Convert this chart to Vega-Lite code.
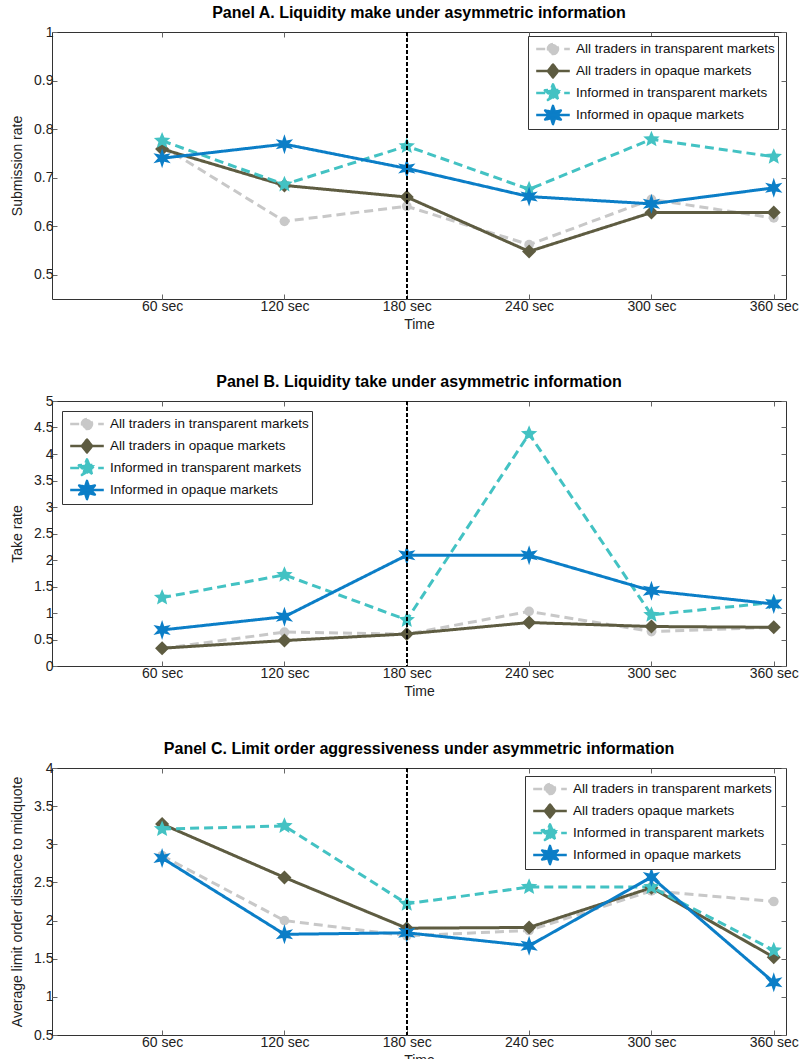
{
  "$schema": "https://vega.github.io/schema/vega-lite/v6.json",
  "padding": {"left": 10, "top": 4, "right": 0, "bottom": 0},
  "background": "white",
  "config": {
    "font": "Liberation Sans",
    "view": {"stroke": "#333", "strokeWidth": 1},
    "title": {"fontSize": 16, "font": "Liberation Sans", "fontWeight": "bold", "offset": 0, "anchor": "middle", "frame": "group", "color": "#000"},
    "axis": {"tickSize": -5, "tickColor": "#666", "tickWidth": 1, "domain": false, "grid": false, "labelFontSize": 14, "titleFontSize": 14, "labelColor": "#222", "titleColor": "#222", "titleFontWeight": "normal", "labelFont": "Liberation Sans", "titleFont": "Liberation Sans"},
    "axisX": {"labelPadding": 5, "titlePadding": 4},
    "axisY": {"labelPadding": 4, "titlePadding": 9},
    "legend": {"labelFont": "Liberation Sans", "title": null, "orient": "none", "padding": 3, "symbolSize": 300, "symbolStrokeWidth": 2.5, "symbolOffset": 12, "labelOffset": 13, "labelFontSize": 13.5, "labelColor": "#111", "strokeColor": "#333", "fillColor": "white", "rowPadding": 0, "labelLimit": 300}
  },
  "data": {"values": [
    {"p": "A", "s": "All traders in transparent markets", "t": 60, "v": 0.765},
    {"p": "A", "s": "All traders in transparent markets", "t": 120, "v": 0.610},
    {"p": "A", "s": "All traders in transparent markets", "t": 180, "v": 0.641},
    {"p": "A", "s": "All traders in transparent markets", "t": 240, "v": 0.562},
    {"p": "A", "s": "All traders in transparent markets", "t": 300, "v": 0.655},
    {"p": "A", "s": "All traders in transparent markets", "t": 360, "v": 0.617},
    {"p": "A", "s": "All traders in opaque markets", "t": 60, "v": 0.759},
    {"p": "A", "s": "All traders in opaque markets", "t": 120, "v": 0.684},
    {"p": "A", "s": "All traders in opaque markets", "t": 180, "v": 0.660},
    {"p": "A", "s": "All traders in opaque markets", "t": 240, "v": 0.548},
    {"p": "A", "s": "All traders in opaque markets", "t": 300, "v": 0.628},
    {"p": "A", "s": "All traders in opaque markets", "t": 360, "v": 0.628},
    {"p": "A", "s": "Informed in transparent markets", "t": 60, "v": 0.776},
    {"p": "A", "s": "Informed in transparent markets", "t": 120, "v": 0.686},
    {"p": "A", "s": "Informed in transparent markets", "t": 180, "v": 0.765},
    {"p": "A", "s": "Informed in transparent markets", "t": 240, "v": 0.676},
    {"p": "A", "s": "Informed in transparent markets", "t": 300, "v": 0.779},
    {"p": "A", "s": "Informed in transparent markets", "t": 360, "v": 0.743},
    {"p": "A", "s": "Informed in opaque markets", "t": 60, "v": 0.740},
    {"p": "A", "s": "Informed in opaque markets", "t": 120, "v": 0.769},
    {"p": "A", "s": "Informed in opaque markets", "t": 180, "v": 0.719},
    {"p": "A", "s": "Informed in opaque markets", "t": 240, "v": 0.661},
    {"p": "A", "s": "Informed in opaque markets", "t": 300, "v": 0.646},
    {"p": "A", "s": "Informed in opaque markets", "t": 360, "v": 0.679},
    {"p": "B", "s": "All traders in transparent markets", "t": 60, "v": 0.33},
    {"p": "B", "s": "All traders in transparent markets", "t": 120, "v": 0.64},
    {"p": "B", "s": "All traders in transparent markets", "t": 180, "v": 0.60},
    {"p": "B", "s": "All traders in transparent markets", "t": 240, "v": 1.03},
    {"p": "B", "s": "All traders in transparent markets", "t": 300, "v": 0.65},
    {"p": "B", "s": "All traders in transparent markets", "t": 360, "v": 0.73},
    {"p": "B", "s": "All traders in opaque markets", "t": 60, "v": 0.335},
    {"p": "B", "s": "All traders in opaque markets", "t": 120, "v": 0.48},
    {"p": "B", "s": "All traders in opaque markets", "t": 180, "v": 0.605},
    {"p": "B", "s": "All traders in opaque markets", "t": 240, "v": 0.82},
    {"p": "B", "s": "All traders in opaque markets", "t": 300, "v": 0.745},
    {"p": "B", "s": "All traders in opaque markets", "t": 360, "v": 0.73},
    {"p": "B", "s": "Informed in transparent markets", "t": 60, "v": 1.29},
    {"p": "B", "s": "Informed in transparent markets", "t": 120, "v": 1.72},
    {"p": "B", "s": "Informed in transparent markets", "t": 180, "v": 0.87},
    {"p": "B", "s": "Informed in transparent markets", "t": 240, "v": 4.38},
    {"p": "B", "s": "Informed in transparent markets", "t": 300, "v": 0.965},
    {"p": "B", "s": "Informed in transparent markets", "t": 360, "v": 1.20},
    {"p": "B", "s": "Informed in opaque markets", "t": 60, "v": 0.68},
    {"p": "B", "s": "Informed in opaque markets", "t": 120, "v": 0.93},
    {"p": "B", "s": "Informed in opaque markets", "t": 180, "v": 2.09},
    {"p": "B", "s": "Informed in opaque markets", "t": 240, "v": 2.09},
    {"p": "B", "s": "Informed in opaque markets", "t": 300, "v": 1.42},
    {"p": "B", "s": "Informed in opaque markets", "t": 360, "v": 1.17},
    {"p": "C", "s": "All traders in transparent markets", "t": 60, "v": 2.85},
    {"p": "C", "s": "All traders in transparent markets", "t": 120, "v": 2.00},
    {"p": "C", "s": "All traders in transparent markets", "t": 180, "v": 1.80},
    {"p": "C", "s": "All traders in transparent markets", "t": 240, "v": 1.87},
    {"p": "C", "s": "All traders in transparent markets", "t": 300, "v": 2.39},
    {"p": "C", "s": "All traders in transparent markets", "t": 360, "v": 2.25},
    {"p": "C", "s": "All traders opaque markets", "t": 60, "v": 3.265},
    {"p": "C", "s": "All traders opaque markets", "t": 120, "v": 2.565},
    {"p": "C", "s": "All traders opaque markets", "t": 180, "v": 1.90},
    {"p": "C", "s": "All traders opaque markets", "t": 240, "v": 1.91},
    {"p": "C", "s": "All traders opaque markets", "t": 300, "v": 2.43},
    {"p": "C", "s": "All traders opaque markets", "t": 360, "v": 1.52},
    {"p": "C", "s": "Informed in transparent markets", "t": 60, "v": 3.20},
    {"p": "C", "s": "Informed in transparent markets", "t": 120, "v": 3.24},
    {"p": "C", "s": "Informed in transparent markets", "t": 180, "v": 2.22},
    {"p": "C", "s": "Informed in transparent markets", "t": 240, "v": 2.44},
    {"p": "C", "s": "Informed in transparent markets", "t": 300, "v": 2.44},
    {"p": "C", "s": "Informed in transparent markets", "t": 360, "v": 1.61},
    {"p": "C", "s": "Informed in opaque markets", "t": 60, "v": 2.82},
    {"p": "C", "s": "Informed in opaque markets", "t": 120, "v": 1.82},
    {"p": "C", "s": "Informed in opaque markets", "t": 180, "v": 1.84},
    {"p": "C", "s": "Informed in opaque markets", "t": 240, "v": 1.67},
    {"p": "C", "s": "Informed in opaque markets", "t": 300, "v": 2.57},
    {"p": "C", "s": "Informed in opaque markets", "t": 360, "v": 1.19}
  ]},
  "spacing": 41,
  "resolve": {
    "scale": {"x": "independent", "y": "independent", "color": "independent", "strokeDash": "independent", "fill": "independent", "shape": "independent", "size": "independent"},
    "legend": {"color": "independent", "strokeDash": "independent"}
  },
  "vconcat": [
    {
      "title": {"text": "Panel A. Liquidity make under asymmetric information"},
      "width": 734, "height": 267,
      "transform": [{"filter": "datum.p === 'A'"}],
      "resolve": {"axis": {"x": "independent", "y": "independent"}},
      "layer": [
        {
          "mark": {"type": "line", "strokeWidth": 3},
          "encoding": {
            "x": {"field": "t", "type": "quantitative", "scale": {"domain": [6, 366], "nice": false, "zero": false}, "axis": {"orient": "bottom", "values": [60, 120, 180, 240, 300, 360], "labelExpr": "datum.value + ' sec'", "title": "Time"}},
            "y": {"field": "v", "type": "quantitative", "scale": {"domain": [0.45, 1], "nice": false, "zero": false}, "axis": {"orient": "left", "values": [0.5, 0.6, 0.7, 0.8, 0.9, 1], "format": "~g", "title": "Submission rate"}},
            "color": {"field": "s", "type": "nominal", "scale": {"domain": ["All traders in transparent markets", "All traders in opaque markets", "Informed in transparent markets", "Informed in opaque markets"], "range": ["#c8c8c8", "#5e5c41", "#43c2c3", "#0b7ec7"]},
              "legend": {"legendX": 476, "legendY": 4,
                "encode": {"symbols": {"update": {
                  "shape": {"signal": "['M0,-1.05M0,1.05M-1.94,0L1.94,0M0.58,0A0.58,0.58 0 1,1 -0.58,0A0.58,0.58 0 1,1 0.58,0Z','M0,-1.05M0,1.05M-1.94,0L1.94,0M0,-0.75L0.59,0L0,0.75L-0.59,0Z','M0,-1.05M0,1.05M-1.94,0L1.94,0M0,-1L0.265,-0.364L0.951,-0.309L0.428,0.139L0.588,0.809L0,0.45L-0.588,0.809L-0.428,0.139L-0.951,-0.309L-0.265,-0.364Z','M0,-1.05M0,1.05M-1.94,0L1.94,0M0,-1.05L0.22,-0.381L0.909,-0.525L0.44,0L0.909,0.525L0.22,0.381L0,1.05L-0.22,0.381L-0.909,0.525L-0.44,0L-0.909,-0.525L-0.22,-0.381Z'][datum.index]"},
                  "fill": {"signal": "['#c8c8c8','#5e5c41','#43c2c3','#0b7ec7'][datum.index]"},
                  "strokeJoin": {"value": "round"},
                  "opacity": {"value": 1}}}}}},
            "strokeDash": {"field": "s", "type": "nominal", "scale": {"domain": ["All traders in transparent markets", "All traders in opaque markets", "Informed in transparent markets", "Informed in opaque markets"], "range": [[9, 5], [1, 0], [9, 5], [1, 0]]},
              "legend": {"legendX": 476, "legendY": 4,
                "encode": {"symbols": {"update": {
                  "shape": {"signal": "['M0,-1.05M0,1.05M-1.94,0L1.94,0M0.58,0A0.58,0.58 0 1,1 -0.58,0A0.58,0.58 0 1,1 0.58,0Z','M0,-1.05M0,1.05M-1.94,0L1.94,0M0,-0.75L0.59,0L0,0.75L-0.59,0Z','M0,-1.05M0,1.05M-1.94,0L1.94,0M0,-1L0.265,-0.364L0.951,-0.309L0.428,0.139L0.588,0.809L0,0.45L-0.588,0.809L-0.428,0.139L-0.951,-0.309L-0.265,-0.364Z','M0,-1.05M0,1.05M-1.94,0L1.94,0M0,-1.05L0.22,-0.381L0.909,-0.525L0.44,0L0.909,0.525L0.22,0.381L0,1.05L-0.22,0.381L-0.909,0.525L-0.44,0L-0.909,-0.525L-0.22,-0.381Z'][datum.index]"},
                  "fill": {"signal": "['#c8c8c8','#5e5c41','#43c2c3','#0b7ec7'][datum.index]"},
                  "strokeJoin": {"value": "round"},
                  "opacity": {"value": 1}}}}}}
          }
        },
        {
          "mark": {"type": "point", "filled": true, "opacity": 1},
          "encoding": {
            "x": {"field": "t", "type": "quantitative", "axis": {"orient": "top", "labels": false, "title": null, "labelPadding": 0, "minExtent": 0, "maxExtent": 0, "values": [60, 120, 180, 240, 300, 360]}},
            "y": {"field": "v", "type": "quantitative", "axis": {"orient": "right", "labels": false, "title": null, "labelPadding": 0, "minExtent": 0, "maxExtent": 0, "values": [0.5, 0.6, 0.7, 0.8, 0.9, 1]}},
            "fill": {"field": "s", "type": "nominal", "scale": {"domain": ["Informed in opaque markets", "Informed in transparent markets", "All traders in opaque markets", "All traders in transparent markets"], "range": ["#0b7ec7", "#43c2c3", "#5e5c41", "#c8c8c8"]}, "legend": null},
            "shape": {"field": "s", "type": "nominal", "scale": {"domain": ["Informed in opaque markets", "Informed in transparent markets", "All traders in opaque markets", "All traders in transparent markets"], "range": ["M0,-1L0.21,-0.364L0.866,-0.5L0.42,0L0.866,0.5L0.21,0.364L0,1L-0.21,0.364L-0.866,0.5L-0.42,0L-0.866,-0.5L-0.21,-0.364Z", "M0,-1L0.265,-0.364L0.951,-0.309L0.428,0.139L0.588,0.809L0,0.45L-0.588,0.809L-0.428,0.139L-0.951,-0.309L-0.265,-0.364Z", "diamond", "circle"]}, "legend": null},
            "size": {"field": "s", "type": "ordinal", "scale": {"domain": ["Informed in opaque markets", "Informed in transparent markets", "All traders in opaque markets", "All traders in transparent markets"], "range": [400, 95]}, "legend": null}
          }
        },
        {
          "mark": {"type": "rule", "strokeDash": [4, 2], "color": "#000", "strokeWidth": 1.2},
          "encoding": {"x": {"datum": 180, "type": "quantitative", "axis": null}}
        }
      ]
    },
    {
      "title": {"text": "Panel B. Liquidity take under asymmetric information"},
      "width": 734, "height": 265,
      "transform": [{"filter": "datum.p === 'B'"}],
      "resolve": {"axis": {"x": "independent", "y": "independent"}},
      "layer": [
        {
          "mark": {"type": "line", "strokeWidth": 3},
          "encoding": {
            "x": {"field": "t", "type": "quantitative", "scale": {"domain": [6, 366], "nice": false, "zero": false}, "axis": {"orient": "bottom", "values": [60, 120, 180, 240, 300, 360], "labelExpr": "datum.value + ' sec'", "title": "Time"}},
            "y": {"field": "v", "type": "quantitative", "scale": {"domain": [0, 5], "nice": false, "zero": false}, "axis": {"orient": "left", "values": [0, 0.5, 1, 1.5, 2, 2.5, 3, 3.5, 4, 4.5, 5], "format": "~g", "title": "Take rate"}},
            "color": {"field": "s", "type": "nominal", "scale": {"domain": ["All traders in transparent markets", "All traders in opaque markets", "Informed in transparent markets", "Informed in opaque markets"], "range": ["#c8c8c8", "#5e5c41", "#43c2c3", "#0b7ec7"]},
              "legend": {"legendX": 10, "legendY": 10,
                "encode": {"symbols": {"update": {
                  "shape": {"signal": "['M0,-1.05M0,1.05M-1.94,0L1.94,0M0.58,0A0.58,0.58 0 1,1 -0.58,0A0.58,0.58 0 1,1 0.58,0Z','M0,-1.05M0,1.05M-1.94,0L1.94,0M0,-0.75L0.59,0L0,0.75L-0.59,0Z','M0,-1.05M0,1.05M-1.94,0L1.94,0M0,-1L0.265,-0.364L0.951,-0.309L0.428,0.139L0.588,0.809L0,0.45L-0.588,0.809L-0.428,0.139L-0.951,-0.309L-0.265,-0.364Z','M0,-1.05M0,1.05M-1.94,0L1.94,0M0,-1.05L0.22,-0.381L0.909,-0.525L0.44,0L0.909,0.525L0.22,0.381L0,1.05L-0.22,0.381L-0.909,0.525L-0.44,0L-0.909,-0.525L-0.22,-0.381Z'][datum.index]"},
                  "fill": {"signal": "['#c8c8c8','#5e5c41','#43c2c3','#0b7ec7'][datum.index]"},
                  "strokeJoin": {"value": "round"},
                  "opacity": {"value": 1}}}}}},
            "strokeDash": {"field": "s", "type": "nominal", "scale": {"domain": ["All traders in transparent markets", "All traders in opaque markets", "Informed in transparent markets", "Informed in opaque markets"], "range": [[9, 5], [1, 0], [9, 5], [1, 0]]},
              "legend": {"legendX": 10, "legendY": 10,
                "encode": {"symbols": {"update": {
                  "shape": {"signal": "['M0,-1.05M0,1.05M-1.94,0L1.94,0M0.58,0A0.58,0.58 0 1,1 -0.58,0A0.58,0.58 0 1,1 0.58,0Z','M0,-1.05M0,1.05M-1.94,0L1.94,0M0,-0.75L0.59,0L0,0.75L-0.59,0Z','M0,-1.05M0,1.05M-1.94,0L1.94,0M0,-1L0.265,-0.364L0.951,-0.309L0.428,0.139L0.588,0.809L0,0.45L-0.588,0.809L-0.428,0.139L-0.951,-0.309L-0.265,-0.364Z','M0,-1.05M0,1.05M-1.94,0L1.94,0M0,-1.05L0.22,-0.381L0.909,-0.525L0.44,0L0.909,0.525L0.22,0.381L0,1.05L-0.22,0.381L-0.909,0.525L-0.44,0L-0.909,-0.525L-0.22,-0.381Z'][datum.index]"},
                  "fill": {"signal": "['#c8c8c8','#5e5c41','#43c2c3','#0b7ec7'][datum.index]"},
                  "strokeJoin": {"value": "round"},
                  "opacity": {"value": 1}}}}}}
          }
        },
        {
          "mark": {"type": "point", "filled": true, "opacity": 1},
          "encoding": {
            "x": {"field": "t", "type": "quantitative", "axis": {"orient": "top", "labels": false, "title": null, "labelPadding": 0, "minExtent": 0, "maxExtent": 0, "values": [60, 120, 180, 240, 300, 360]}},
            "y": {"field": "v", "type": "quantitative", "axis": {"orient": "right", "labels": false, "title": null, "labelPadding": 0, "minExtent": 0, "maxExtent": 0, "values": [0, 0.5, 1, 1.5, 2, 2.5, 3, 3.5, 4, 4.5, 5]}},
            "fill": {"field": "s", "type": "nominal", "scale": {"domain": ["Informed in opaque markets", "Informed in transparent markets", "All traders in opaque markets", "All traders in transparent markets"], "range": ["#0b7ec7", "#43c2c3", "#5e5c41", "#c8c8c8"]}, "legend": null},
            "shape": {"field": "s", "type": "nominal", "scale": {"domain": ["Informed in opaque markets", "Informed in transparent markets", "All traders in opaque markets", "All traders in transparent markets"], "range": ["M0,-1L0.21,-0.364L0.866,-0.5L0.42,0L0.866,0.5L0.21,0.364L0,1L-0.21,0.364L-0.866,0.5L-0.42,0L-0.866,-0.5L-0.21,-0.364Z", "M0,-1L0.265,-0.364L0.951,-0.309L0.428,0.139L0.588,0.809L0,0.45L-0.588,0.809L-0.428,0.139L-0.951,-0.309L-0.265,-0.364Z", "diamond", "circle"]}, "legend": null},
            "size": {"field": "s", "type": "ordinal", "scale": {"domain": ["Informed in opaque markets", "Informed in transparent markets", "All traders in opaque markets", "All traders in transparent markets"], "range": [400, 95]}, "legend": null}
          }
        },
        {
          "mark": {"type": "rule", "strokeDash": [4, 2], "color": "#000", "strokeWidth": 1.2},
          "encoding": {"x": {"datum": 180, "type": "quantitative", "axis": null}}
        }
      ]
    },
    {
      "title": {"text": "Panel C. Limit order aggressiveness under asymmetric information"},
      "width": 734, "height": 267,
      "transform": [{"filter": "datum.p === 'C'"}],
      "resolve": {"axis": {"x": "independent", "y": "independent"}},
      "layer": [
        {
          "mark": {"type": "line", "strokeWidth": 3},
          "encoding": {
            "x": {"field": "t", "type": "quantitative", "scale": {"domain": [6, 366], "nice": false, "zero": false}, "axis": {"orient": "bottom", "values": [60, 120, 180, 240, 300, 360], "labelExpr": "datum.value + ' sec'", "title": "Time"}},
            "y": {"field": "v", "type": "quantitative", "scale": {"domain": [0.5, 4], "nice": false, "zero": false}, "axis": {"orient": "left", "values": [0.5, 1, 1.5, 2, 2.5, 3, 3.5, 4], "format": "~g", "title": "Average limit order distance to midquote"}},
            "color": {"field": "s", "type": "nominal", "scale": {"domain": ["All traders in transparent markets", "All traders opaque markets", "Informed in transparent markets", "Informed in opaque markets"], "range": ["#c8c8c8", "#5e5c41", "#43c2c3", "#0b7ec7"]},
              "legend": {"legendX": 473, "legendY": 8,
                "encode": {"symbols": {"update": {
                  "shape": {"signal": "['M0,-1.05M0,1.05M-1.94,0L1.94,0M0.58,0A0.58,0.58 0 1,1 -0.58,0A0.58,0.58 0 1,1 0.58,0Z','M0,-1.05M0,1.05M-1.94,0L1.94,0M0,-0.75L0.59,0L0,0.75L-0.59,0Z','M0,-1.05M0,1.05M-1.94,0L1.94,0M0,-1L0.265,-0.364L0.951,-0.309L0.428,0.139L0.588,0.809L0,0.45L-0.588,0.809L-0.428,0.139L-0.951,-0.309L-0.265,-0.364Z','M0,-1.05M0,1.05M-1.94,0L1.94,0M0,-1.05L0.22,-0.381L0.909,-0.525L0.44,0L0.909,0.525L0.22,0.381L0,1.05L-0.22,0.381L-0.909,0.525L-0.44,0L-0.909,-0.525L-0.22,-0.381Z'][datum.index]"},
                  "fill": {"signal": "['#c8c8c8','#5e5c41','#43c2c3','#0b7ec7'][datum.index]"},
                  "strokeJoin": {"value": "round"},
                  "opacity": {"value": 1}}}}}},
            "strokeDash": {"field": "s", "type": "nominal", "scale": {"domain": ["All traders in transparent markets", "All traders opaque markets", "Informed in transparent markets", "Informed in opaque markets"], "range": [[9, 5], [1, 0], [9, 5], [1, 0]]},
              "legend": {"legendX": 473, "legendY": 8,
                "encode": {"symbols": {"update": {
                  "shape": {"signal": "['M0,-1.05M0,1.05M-1.94,0L1.94,0M0.58,0A0.58,0.58 0 1,1 -0.58,0A0.58,0.58 0 1,1 0.58,0Z','M0,-1.05M0,1.05M-1.94,0L1.94,0M0,-0.75L0.59,0L0,0.75L-0.59,0Z','M0,-1.05M0,1.05M-1.94,0L1.94,0M0,-1L0.265,-0.364L0.951,-0.309L0.428,0.139L0.588,0.809L0,0.45L-0.588,0.809L-0.428,0.139L-0.951,-0.309L-0.265,-0.364Z','M0,-1.05M0,1.05M-1.94,0L1.94,0M0,-1.05L0.22,-0.381L0.909,-0.525L0.44,0L0.909,0.525L0.22,0.381L0,1.05L-0.22,0.381L-0.909,0.525L-0.44,0L-0.909,-0.525L-0.22,-0.381Z'][datum.index]"},
                  "fill": {"signal": "['#c8c8c8','#5e5c41','#43c2c3','#0b7ec7'][datum.index]"},
                  "strokeJoin": {"value": "round"},
                  "opacity": {"value": 1}}}}}}
          }
        },
        {
          "mark": {"type": "point", "filled": true, "opacity": 1},
          "encoding": {
            "x": {"field": "t", "type": "quantitative", "axis": {"orient": "top", "labels": false, "title": null, "labelPadding": 0, "minExtent": 0, "maxExtent": 0, "values": [60, 120, 180, 240, 300, 360]}},
            "y": {"field": "v", "type": "quantitative", "axis": {"orient": "right", "labels": false, "title": null, "labelPadding": 0, "minExtent": 0, "maxExtent": 0, "values": [0.5, 1, 1.5, 2, 2.5, 3, 3.5, 4]}},
            "fill": {"field": "s", "type": "nominal", "scale": {"domain": ["Informed in opaque markets", "Informed in transparent markets", "All traders opaque markets", "All traders in transparent markets"], "range": ["#0b7ec7", "#43c2c3", "#5e5c41", "#c8c8c8"]}, "legend": null},
            "shape": {"field": "s", "type": "nominal", "scale": {"domain": ["Informed in opaque markets", "Informed in transparent markets", "All traders opaque markets", "All traders in transparent markets"], "range": ["M0,-1L0.21,-0.364L0.866,-0.5L0.42,0L0.866,0.5L0.21,0.364L0,1L-0.21,0.364L-0.866,0.5L-0.42,0L-0.866,-0.5L-0.21,-0.364Z", "M0,-1L0.265,-0.364L0.951,-0.309L0.428,0.139L0.588,0.809L0,0.45L-0.588,0.809L-0.428,0.139L-0.951,-0.309L-0.265,-0.364Z", "diamond", "circle"]}, "legend": null},
            "size": {"field": "s", "type": "ordinal", "scale": {"domain": ["Informed in opaque markets", "Informed in transparent markets", "All traders opaque markets", "All traders in transparent markets"], "range": [400, 95]}, "legend": null}
          }
        },
        {
          "mark": {"type": "rule", "strokeDash": [4, 2], "color": "#000", "strokeWidth": 1.2},
          "encoding": {"x": {"datum": 180, "type": "quantitative", "axis": null}}
        }
      ]
    }
  ]
}
